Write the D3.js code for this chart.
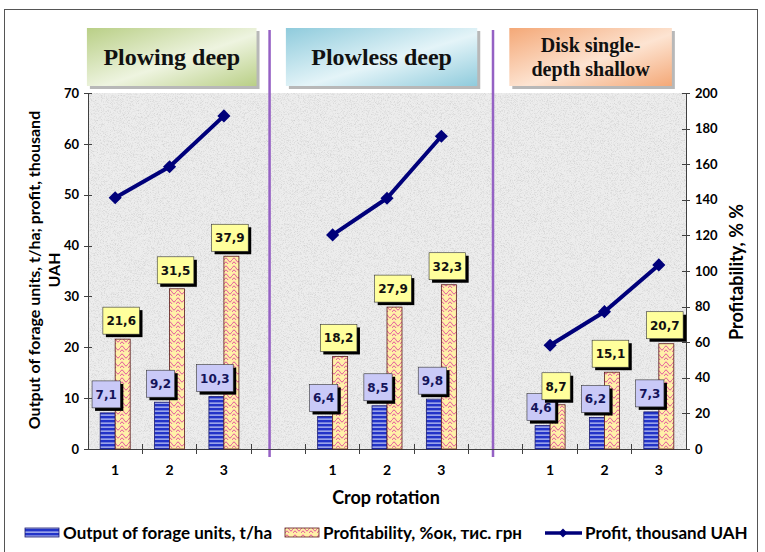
<!doctype html>
<html>
<head>
<meta charset="utf-8">
<script src="https://cdn.jsdelivr.net/npm/d3@7"></script>
<style>
  body { margin: 0; background: #fff; }
  svg { display: block; }
  text { font-family: Lato, "Open Sans", sans-serif; font-weight: bold; }
  .axis path, .axis line { stroke: #404040; shape-rendering: crispEdges; }
  .axis text { font-size: 13px; fill: #000; font-family: Lato, sans-serif; font-weight: bold; }
</style>
</head>
<body>
<svg width="765" height="552"></svg>
<script>
// data
var groups = ["Plowing deep", "Plowless deep", "Disk single-\ndepth shallow"];
var rotations = ["1", "2", "3"];
var output = [7.1, 9.2, 10.3, 6.4, 8.5, 9.8, 4.6, 6.2, 7.3];
var profitability = [21.6, 31.5, 37.9, 18.2, 27.9, 32.3, 8.7, 15.1, 20.7];
var profit = [49.4, 55.5, 65.5, 42.1, 49.3, 61.5, 20.4, 27.0, 36.2];
var leftTicks = [0, 10, 20, 30, 40, 50, 60, 70];
var rightTicks = [0, 20, 40, 60, 80, 100, 120, 140, 160, 180, 200];

// layout (plot box)
var pl = 88, pr = 686, pt = 93, pb = 449;
var headerColors = [["#b9cf86", "#eef4e0"], ["#8fcbdc", "#e4f4f8"], ["#f4a877", "#fde4d2"]];
var headerSpan = [[-0.02, 3.1], [3.64, 7.16], [7.75, 10.74]];
var dividerPos = [3.34, 7.45];

var svg = d3.select("svg");
var defs = svg.append("defs");

// slot keys: 3 rotations per group, blank slot between groups
var slots = [];
groups.forEach(function(g, gi) {
  rotations.forEach(function(r) { slots.push(gi + "-" + r); });
  if (gi < groups.length - 1) slots.push("gap" + gi);
});
var rows = [];
groups.forEach(function(g, gi) {
  rotations.forEach(function(r, ri) {
    var i = gi * 3 + ri;
    rows.push({key: gi + "-" + r, rot: r, output: output[i], prof: profitability[i], profit: profit[i], group: gi});
  });
});

var x = d3.scaleBand().domain(slots).range([pl, pr]).padding(0);
var xs = d3.scaleLinear().domain([0, slots.length]).range([pl, pr]);
var y = d3.scaleLinear().domain([0, 70]).range([pb, pt]);
var y2 = d3.scaleLinear().domain([0, 200]).range([pb, pt]);

// outer frame
svg.append("rect").attr("x", 4.5).attr("y", 9.5).attr("width", 753).attr("height", 560)
  .attr("fill", "#fff").attr("stroke", "#555").attr("stroke-width", 1);

// granite background
var f = defs.append("filter").attr("id", "granite").attr("x", 0).attr("y", 0).attr("width", 1).attr("height", 1);
f.append("feTurbulence").attr("type", "fractalNoise").attr("baseFrequency", 1.3).attr("numOctaves", 2).attr("seed", 7);
f.append("feColorMatrix").attr("type", "matrix")
  .attr("values", "0 0 0 0 0.4  0 0 0 0 0.4  0 0 0 0 0.4  2.2 0 0 0 -1.0");
svg.append("rect").attr("x", pl).attr("y", pt).attr("width", pr - pl).attr("height", pb - pt).attr("fill", "#ededed");
svg.append("rect").attr("x", pl).attr("y", pt).attr("width", pr - pl).attr("height", pb - pt)
  .attr("filter", "url(#granite)").attr("opacity", 0.45);

// patterns
var stripes = defs.append("pattern").attr("id", "stripes").attr("patternUnits", "userSpaceOnUse")
  .attr("width", 6).attr("height", 4);
stripes.append("rect").attr("width", 6).attr("height", 4).attr("fill", "#2233c8");
stripes.append("rect").attr("y", 2.6).attr("width", 6).attr("height", 1).attr("fill", "#e8ecff");

var scales = defs.append("pattern").attr("id", "scales").attr("patternUnits", "userSpaceOnUse")
  .attr("width", 8).attr("height", 8);
scales.append("rect").attr("width", 8).attr("height", 8).attr("fill", "#fff0a8");
scales.append("path").attr("d", "M0,4 Q2,0 4,4 Q6,8 8,4 M-4,8 Q-2,4 0,8 M4,0 Q6,-4 8,0 M0,8 Q2,4 4,8")
  .attr("fill", "none").attr("stroke", "#e0489c").attr("stroke-width", 0.9);

// header boxes
headerColors.forEach(function(c, i) {
  var lg = defs.append("linearGradient").attr("id", "hg" + i).attr("x1", 0).attr("y1", 0).attr("x2", 1).attr("y2", 1);
  lg.append("stop").attr("offset", 0).attr("stop-color", c[0]);
  lg.append("stop").attr("offset", 0.55).attr("stop-color", c[1]);
  lg.append("stop").attr("offset", 1).attr("stop-color", c[0]);
});
var hdr = svg.selectAll("g.hdr").data(groups).enter().append("g").attr("class", "hdr");
hdr.append("rect")
  .attr("x", function(d, i) { return xs(headerSpan[i][0]) + 3; })
  .attr("y", 31).attr("height", 58)
  .attr("width", function(d, i) { return xs(headerSpan[i][1]) - xs(headerSpan[i][0]); })
  .attr("fill", "#9a9a9a").attr("opacity", 0.7);
hdr.append("rect")
  .attr("x", function(d, i) { return xs(headerSpan[i][0]); })
  .attr("y", 28).attr("height", 58)
  .attr("width", function(d, i) { return xs(headerSpan[i][1]) - xs(headerSpan[i][0]); })
  .attr("fill", function(d, i) { return "url(#hg" + i + ")"; });
hdr.each(function(d, i) {
  var lines = d.split("\n");
  var cx = (xs(headerSpan[i][0]) + xs(headerSpan[i][1])) / 2;
  var t = d3.select(this).append("text")
    .attr("text-anchor", "middle")
    .style("font-family", "'Liberation Serif', serif")
    .style("font-size", lines.length > 1 ? "20px" : "24px")
    .attr("fill", "#111");
  lines.forEach(function(l, li) {
    t.append("tspan").attr("x", cx)
      .attr("y", lines.length > 1 ? 52 + li * 24 : 65)
      .text(l);
  });
});

// dividers
svg.selectAll("line.div").data(dividerPos).enter().append("line").attr("class", "div")
  .attr("x1", function(d) { return xs(d); }).attr("x2", function(d) { return xs(d); })
  .attr("y1", 30).attr("y2", 457)
  .attr("stroke", "#9561c4").attr("stroke-width", 2.5);

// axes
var yAxis = d3.axisLeft(y).tickValues(leftTicks).tickSize(0).tickPadding(9);
var ga = svg.append("g").attr("class", "axis").attr("transform", "translate(" + pl + ",0)").call(yAxis);
ga.selectAll(".tick").append("line").attr("x1", -4).attr("x2", 4);
var y2Axis = d3.axisRight(y2).tickValues(rightTicks).tickSize(0).tickPadding(9);
var gb = svg.append("g").attr("class", "axis").attr("transform", "translate(" + pr + ",0)").call(y2Axis);
gb.selectAll(".tick").append("line").attr("x1", -4).attr("x2", 4);

var xAxis = d3.axisBottom(x).tickSize(0).tickPadding(16)
  .tickFormat(function(d) { return d.indexOf("gap") === 0 ? "" : d.split("-")[1]; });
var gx = svg.append("g").attr("class", "axis").attr("transform", "translate(0," + pb + ")").call(xAxis);
gx.selectAll("text").style("font-size", "14px");
gx.selectAll("line.bound").data(slots.slice(1)).enter().append("line").attr("class", "bound")
  .attr("x1", function(d) { return x(d); }).attr("x2", function(d) { return x(d); })
  .attr("y1", -5).attr("y2", 5).attr("stroke", "#404040");

// bars
var bw = 15;
var bars = svg.append("g");
bars.selectAll("rect.out").data(rows).enter().append("rect").attr("class", "out")
  .attr("x", function(d) { return x(d.key) + x.bandwidth() / 2 - bw; })
  .attr("width", bw)
  .attr("y", function(d) { return y(d.output); })
  .attr("height", function(d) { return pb - y(d.output); })
  .attr("fill", "url(#stripes)").attr("stroke", "#1a1a70").attr("stroke-width", 0.8);
bars.selectAll("rect.prof").data(rows).enter().append("rect").attr("class", "prof")
  .attr("x", function(d) { return x(d.key) + x.bandwidth() / 2; })
  .attr("width", bw)
  .attr("y", function(d) { return y(d.prof); })
  .attr("height", function(d) { return pb - y(d.prof); })
  .attr("fill", "url(#scales)").attr("stroke", "#5a1a1a").attr("stroke-width", 0.8);

// profit line
var line = d3.line().x(function(d) { return x(d.key) + x.bandwidth() / 2; }).y(function(d) { return y(d.profit); });
groups.forEach(function(g, gi) {
  var pts = rows.filter(function(d) { return d.group === gi; });
  svg.append("path").datum(pts).attr("d", line)
    .attr("fill", "none").attr("stroke", "#00007a").attr("stroke-width", 4).attr("stroke-linejoin", "round");
});
svg.selectAll("path.mk").data(rows).enter().append("path").attr("class", "mk")
  .attr("d", d3.symbol().type(d3.symbolDiamond2).size(110))
  .attr("transform", function(d) { return "translate(" + (x(d.key) + x.bandwidth() / 2) + "," + y(d.profit) + ")"; })
  .attr("fill", "#00007a");

// value labels
function drawLabels(key, cls, offset, fill, color) {
  rows.forEach(function(d) {
    var v = d[key];
    var cx = x(d.key) + x.bandwidth() / 2 + offset;
    var yb = y(v) - 5;
    var g = svg.append("g").attr("class", cls);
    var t = g.append("text").text(String(v).replace(".", ","))
      .attr("text-anchor", "middle")
      .style("font-family", "'DejaVu Sans', Verdana, sans-serif")
      .style("font-size", "12px").attr("fill", color);
    var w = t.node().getComputedTextLength() + 7, h = 27;
    g.insert("rect", "text").attr("x", cx - w / 2 + 3).attr("y", yb - h + 3).attr("width", w).attr("height", h).attr("fill", "#000");
    g.insert("rect", "text").attr("x", cx - w / 2).attr("y", yb - h).attr("width", w).attr("height", h)
      .attr("fill", fill).attr("stroke", "#333").attr("stroke-width", 0.6);
    t.attr("x", cx).attr("y", yb - h / 2 + 4.5);
  });
}
drawLabels("output", "lo", -9, "#c9c9f7", "#14145a");
drawLabels("prof", "lp", 6, "#ffff9c", "#111");

// axis titles
svg.append("text").attr("transform", "translate(40,270) rotate(-90)").attr("text-anchor", "middle")
  .style("font-size", "16px").text("Output of forage units, t/ha; profit, thousand");
svg.append("text").attr("transform", "translate(60,270) rotate(-90)").attr("text-anchor", "middle")
  .style("font-size", "16px").text("UAH");
svg.append("text").attr("transform", "translate(743,272) rotate(-90)").attr("text-anchor", "middle")
  .style("font-size", "18px").text("Profitability, % %");
svg.append("text").attr("x", 386).attr("y", 504).attr("text-anchor", "middle")
  .style("font-size", "18px").text("Crop rotation");

// legend
var legend = [
  {name: "Output of forage units, t/ha", kind: "stripes", x: 25},
  {name: "Profitability, %ок, тис. грн", kind: "scales", x: 285},
  {name: "Profit, thousand UAH", kind: "line", x: 545}
];
var lg = svg.selectAll("g.leg").data(legend).enter().append("g").attr("class", "leg")
  .attr("transform", function(d) { return "translate(" + d.x + ",533)"; });
lg.filter(function(d) { return d.kind !== "line"; }).append("rect")
  .attr("x", 0).attr("y", -5).attr("width", 34).attr("height", 9)
  .attr("fill", function(d) { return "url(#" + d.kind + ")"; })
  .attr("stroke", function(d) { return d.kind === "stripes" ? "#1a1a70" : "#5a1a1a"; }).attr("stroke-width", 0.8);
lg.filter(function(d) { return d.kind === "line"; }).each(function() {
  var g = d3.select(this);
  g.append("line").attr("x1", 0).attr("x2", 37).attr("y1", 0).attr("y2", 0).attr("stroke", "#00007a").attr("stroke-width", 3.5);
  g.append("path").attr("d", d3.symbol().type(d3.symbolDiamond2).size(50)).attr("transform", "translate(18,0)").attr("fill", "#00007a");
});
lg.append("text").attr("x", function(d) { return d.kind === "line" ? 40 : 38; }).attr("y", 6)
  .style("font-size", "17px").text(function(d) { return d.name; });
</script>
</body>
</html>
